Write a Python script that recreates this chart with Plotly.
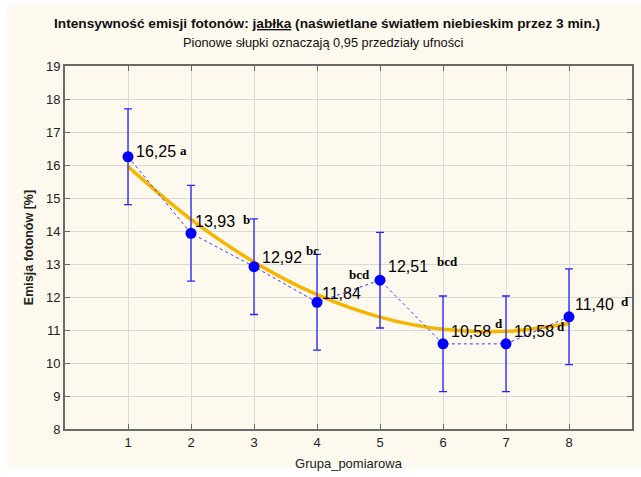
import plotly.graph_objects as go

groups = [1, 2, 3, 4, 5, 6, 7, 8]
means = [16.25, 13.93, 12.92, 11.84, 12.51, 10.58, 10.58, 11.40]
ci_half = [1.45, 1.45, 1.45, 1.45, 1.45, 1.45, 1.45, 1.45]
value_labels = ["16,25", "13,93", "12,92", "11,84", "12,51", "10,58", "10,58", "11,40"]
fit_values = [15.95, 14.35, 13.06, 12.07, 11.39, 11.02, 10.96, 11.20]
# value label anchor (left edge x, centre y) in data units
label_x = [1.09, 2.03, 3.10, 4.05, 5.10, 6.09, 7.09, 8.06]
label_y = [16.40, 14.30, 13.20, 12.12, 12.92, 10.94, 10.94, 11.76]
# homogeneous-group letters (left edge x, centre y)
letter_txt = ["a", "b", "bc", "bcd", "bcd", "d", "d", "d"]
letter_x = [1.79, 2.80, 3.80, 4.48, 5.87, 6.80, 7.78, 8.80]
letter_y = [16.45, 14.35, 13.42, 12.67, 13.09, 11.21, 11.12, 11.85]

SANS = "Liberation Sans, Arial"
SERIF = "Liberation Serif, Times New Roman"

fig = go.Figure()

fig.add_trace(go.Scatter(
    x=groups, y=fit_values, mode="lines", line_shape="spline",
    line=dict(color="#f7b500", width=3.5), hoverinfo="skip", showlegend=False))

fig.add_trace(go.Scatter(
    x=groups, y=means, mode="lines+markers",
    line=dict(color="#3838ff", width=1, dash="dot"),
    marker=dict(color="#0000ff", size=11),
    error_y=dict(type="data", array=ci_half, color="#2424ff", thickness=1.3, width=4),
    showlegend=False))

annotations = []
for x, y, t in zip(label_x, label_y, value_labels):
    annotations.append(dict(x=x, y=y, xref="x", yref="y", text=t, showarrow=False,
                            xanchor="left", yanchor="middle",
                            font=dict(family=SANS, size=16, color="black")))
for x, y, t in zip(letter_x, letter_y, letter_txt):
    annotations.append(dict(x=x, y=y, xref="x", yref="y", text="<b>" + t + "</b>", showarrow=False,
                            xanchor="left", yanchor="middle",
                            font=dict(family=SERIF, size=13, color="black")))

annotations.append(dict(
    x=328, y=477 - 23, xref="paper", yref="paper", showarrow=False,
    text="<b>Intensywność emisji fotonów: <span style='text-decoration:underline'>jabłka</span> (naświetlane światłem niebieskim przez 3 min.)</b>",
    xanchor="center", yanchor="middle",
    font=dict(family=SANS, size=13.7, color="#111")))
annotations.append(dict(
    x=324, y=477 - 43, xref="paper", yref="paper", showarrow=False,
    text="Pionowe słupki oznaczają 0,95 przedziały ufności",
    xanchor="center", yanchor="middle",
    font=dict(family=SANS, size=12.8, color="#111")))

# convert pixel-based title positions to paper coordinates
L, R, T, B = 65, 7, 66, 48
PW, PH = 641 - L - R, 477 - T - B
for a in annotations[-2:]:
    a["x"] = (a["x"] - L) / PW
    a["y"] = (a["y"] - B) / PH

fig.add_shape(type="rect", xref="paper", yref="paper",
              x0=(7 - L) / PW, x1=(645 - L) / PW, y0=(477 - 467 - B) / PH, y1=(477 - 5 - B) / PH,
              fillcolor="#fdf9ee", line=dict(width=0), layer="below")

axis_common = dict(
    showgrid=True, gridcolor="#d9d9d9", gridwidth=1,
    showline=True, linecolor="#6a6a6a", linewidth=2, mirror="ticks",
    ticks="inside", ticklen=5, tickcolor="#6a6a6a",
    tickfont=dict(family=SANS, size=13, color="#222"),
    zeroline=False,
)

fig.update_layout(
    width=641, height=477,
    margin=dict(l=L, r=R, t=T, b=B),
    paper_bgcolor="white", plot_bgcolor="white",
    annotations=annotations,
    xaxis=dict(range=[0, 9], tickvals=groups, ticktext=[str(g) for g in groups],
               title=dict(text="Grupa_pomiarowa", standoff=10,
                          font=dict(family=SANS, size=13, color="#222")),
               **axis_common),
    yaxis=dict(range=[8, 19], dtick=1,
               title=dict(text="<b>Emisja fotonów [%]</b>", standoff=10,
                          font=dict(family=SANS, size=12.5, color="#222")),
               **axis_common),
)

fig.write_html("out.html")
